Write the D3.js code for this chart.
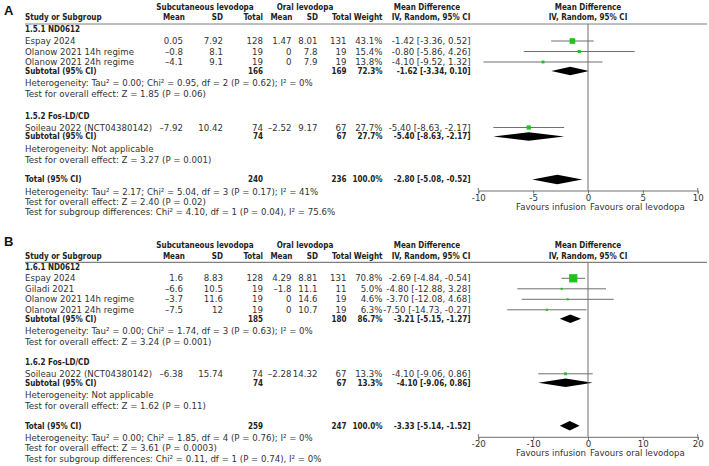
<!DOCTYPE html>
<html><head><meta charset="utf-8">
<script src="https://cdn.jsdelivr.net/npm/d3@7"></script>
<style>
body{margin:0;background:#fff}
svg text{font-family:"DejaVu Sans",sans-serif;fill:#333}
svg text.b{font-family:"DejaVu Sans Condensed","Liberation Sans",sans-serif;font-weight:bold;fill:#222}
</style></head><body><svg id="c" width="709" height="466"></svg>
<script>
// ---------- Panel A ----------
const groupsA = ["1.5.1 ND0612", "1.5.2 Fos-LD/CD"];
const studiesA = ["Espay 2024", "Olanow 2021 14h regime", "Olanow 2021 24h regime", "Soileau 2022 (NCT04380142)"];
const studyGroupA = [0, 0, 0, 1];
const expMeanA = ["0.05", "-0.8", "-4.1", "-7.92"];
const expSdA = ["7.92", "8.1", "9.1", "10.42"];
const expNA = [128, 19, 19, 74];
const ctlMeanA = ["1.47", "0", "0", "-2.52"];
const ctlSdA = ["8.01", "7.8", "7.9", "9.17"];
const ctlNA = [131, 19, 19, 67];
const weightA = [43.1, 15.4, 13.8, 27.7];
const mdA = [-1.42, -0.80, -4.10, -5.40];
const loA = [-3.36, -5.86, -9.52, -8.63];
const hiA = [0.52, 4.26, 1.32, -2.17];
const subExpNA = [166, 74];
const subCtlNA = [169, 67];
const subWeightA = [72.3, 27.7];
const subMdA = [-1.62, -5.40];
const subLoA = [-3.34, -8.63];
const subHiA = [0.10, -2.17];
const subHetA = ["Heterogeneity: Tau² = 0.00; Chi² = 0.95, df = 2 (P = 0.62); I² = 0%", "Heterogeneity: Not applicable"];
const subTestA = ["Test for overall effect: Z = 1.85 (P = 0.06)", "Test for overall effect: Z = 3.27 (P = 0.001)"];
const totalA = [240, 236, 100.0, -2.80, -5.08, -0.52];
const totalTextA = ["Heterogeneity: Tau² = 2.17; Chi² = 5.04, df = 3 (P = 0.17); I² = 41%",
  "Test for overall effect: Z = 2.40 (P = 0.02)",
  "Test for subgroup differences: Chi² = 4.10, df = 1 (P = 0.04), I² = 75.6%"];
const ticksA = [-10, -5, 0, 5, 10];

// ---------- Panel B ----------
const groupsB = ["1.6.1 ND0612", "1.6.2 Fos-LD/CD"];
const studiesB = ["Espay 2024", "Giladi 2021", "Olanow 2021 14h regime", "Olanow 2021 24h regime", "Soileau 2022 (NCT04380142)"];
const studyGroupB = [0, 0, 0, 0, 1];
const expMeanB = ["1.6", "-6.6", "-3.7", "-7.5", "-6.38"];
const expSdB = ["8.83", "10.5", "11.6", "12", "15.74"];
const expNB = [128, 19, 19, 19, 74];
const ctlMeanB = ["4.29", "-1.8", "0", "0", "-2.28"];
const ctlSdB = ["8.81", "11.1", "14.6", "10.7", "14.32"];
const ctlNB = [131, 11, 19, 19, 67];
const weightB = [70.8, 5.0, 4.6, 6.3, 13.3];
const mdB = [-2.69, -4.80, -3.70, -7.50, -4.10];
const loB = [-4.84, -12.88, -12.08, -14.73, -9.06];
const hiB = [-0.54, 3.28, 4.68, -0.27, 0.86];
const subExpNB = [185, 74];
const subCtlNB = [180, 67];
const subWeightB = [86.7, 13.3];
const subMdB = [-3.21, -4.10];
const subLoB = [-5.15, -9.06];
const subHiB = [-1.27, 0.86];
const subHetB = ["Heterogeneity: Tau² = 0.00; Chi² = 1.74, df = 3 (P = 0.63); I² = 0%", "Heterogeneity: Not applicable"];
const subTestB = ["Test for overall effect: Z = 3.24 (P = 0.001)", "Test for overall effect: Z = 1.62 (P = 0.11)"];
const totalB = [259, 247, 100.0, -3.33, -5.14, -1.52];
const totalTextB = ["Heterogeneity: Tau² = 0.00; Chi² = 1.85, df = 4 (P = 0.76); I² = 0%",
  "Test for overall effect: Z = 3.61 (P = 0.0003)",
  "Test for subgroup differences: Chi² = 0.11, df = 1 (P = 0.74), I² = 0%"];
const ticksB = [-20, -10, 0, 10, 20];

const svg = d3.select("#c");

// calibrate font sizes so that text widths match the reference
function fit(str, cls, target) {
  const t = svg.append("text").attr("class", cls).style("font-size", "10px").text(str);
  const w = t.node().getComputedTextLength();
  t.remove();
  return 10 * target / w;
}
const FS = fit(subTestA[0], null, 181);
const FSB = fit("Study or Subgroup", "b", 76.7);
d3.select("head").append("style").text(`svg text{font-size:${FS}px} svg text.b{font-size:${FSB}px}`);

const GREEN = "#1cc41c", LINE = "#6f6f6f", HLINE = "#808080";
const col = {name: 25, expMean: 183, expSd: 223, expN: 263, ctlMean: 291.5, ctlSd: 317.5, ctlN: 346.5, w: 382.5, ci: 470.5};
const tbl = s => s.replace("-", "\u2013");
const f2 = v => v.toFixed(2);
const ciText = (m, l, h) => `${f2(m)} [${f2(l)}, ${f2(h)}]`;
const wText = w => w.toFixed(1) + "%";
const sqScale = d3.scaleLinear().domain([0, 100]).range([1.6, 11]);

function txt(g, x, y, s, anchor, bold) {
  return g.append("text").attr("x", x).attr("y", y).attr("dy", "0.35em")
    .attr("text-anchor", anchor || "start").attr("class", bold ? "b" : null).text(s);
}

function drawPanel(p) {
  const g = svg.append("g");
  const x = d3.scaleLinear().domain([p.ticks[0], p.ticks[p.ticks.length - 1]]).range([478.3, 697.7]);
  g.append("text").attr("x", 4).attr("y", p.labelY).attr("dy", "0.35em")
    .style("font-family", "Liberation Sans, Arial, sans-serif").style("font-size", "13px")
    .style("font-weight", "bold").style("fill", "#111").text(p.label);
  const h1 = p.lineY - 17, h2 = p.lineY - 6.5;
  txt(g, 205, h1, "Subcutaneous levodopa", "middle", true);
  txt(g, 305, h1, "Oral levodopa", "middle", true);
  txt(g, 427, h1, "Mean Difference", "middle", true);
  txt(g, x(0), h1, "Mean Difference", "middle", true);
  txt(g, col.name, h2, "Study or Subgroup", "start", true);
  txt(g, 185, h2, "Mean", "end", true);
  txt(g, col.expSd, h2, "SD", "end", true);
  txt(g, col.expN, h2, "Total", "end", true);
  txt(g, 292.5, h2, "Mean", "end", true);
  txt(g, 318, h2, "SD", "end", true);
  txt(g, 351.5, h2, "Total", "end", true);
  txt(g, col.w, h2, "Weight", "end", true);
  txt(g, 431, h2, "IV, Random, 95% CI", "middle", true);
  txt(g, x(0), h2, "IV, Random, 95% CI", "middle", true);
  g.append("line").attr("x1", 25).attr("x2", 707).attr("y1", p.lineY).attr("y2", p.lineY)
    .attr("stroke", HLINE).attr("stroke-width", 1.2);

  let y = p.lineY + p.firstGap;
  const studyRows = [], subRows = [];
  p.groups.forEach((gname, gi) => {
    txt(g, col.name, y, gname, "start", true);
    y += 11.5;
    const idx = p.studyGroup.map((v, i) => v === gi ? i : -1).filter(i => i >= 0);
    idx.forEach((si, k) => {
      studyRows.push({si, y});
      if (k < idx.length - 1) y += 10.5;
    });
    y += 9; subRows.push({gi, y});
    y += 12; txt(g, col.name, y, p.subHet[gi]);
    y += 11; txt(g, col.name, y, p.subTest[gi]);
    y += gi < p.groups.length - 1 ? p.groupGap : 20;
  });
  const totalY = y;

  studyRows.forEach(({si, y}) => {
    txt(g, col.name, y, p.studies[si]);
    txt(g, col.expMean, y, tbl(p.expMean[si]), "end");
    txt(g, col.expSd, y, p.expSd[si], "end");
    txt(g, col.expN, y, p.expN[si], "end");
    txt(g, col.ctlMean, y, tbl(p.ctlMean[si]), "end");
    txt(g, col.ctlSd, y, p.ctlSd[si], "end");
    txt(g, col.ctlN, y, p.ctlN[si], "end");
    txt(g, col.w, y, wText(p.weight[si]), "end");
    txt(g, col.ci, y, ciText(p.md[si], p.lo[si], p.hi[si]), "end");
    g.append("line").attr("x1", x(p.lo[si])).attr("x2", x(p.hi[si])).attr("y1", y).attr("y2", y)
      .attr("stroke", LINE).attr("stroke-width", 1);
    const s = sqScale(p.weight[si]);
    g.append("rect").attr("x", x(p.md[si]) - s / 2).attr("y", y - s / 2).attr("width", s).attr("height", s)
      .attr("fill", GREEN);
  });
  const diamond = (m, l, h, y, ht) => g.append("path")
    .attr("d", `M${x(l)},${y}L${x(m)},${y - ht / 2}L${x(h)},${y}L${x(m)},${y + ht / 2}Z`).attr("fill", "#000");
  subRows.forEach(({gi, y}) => {
    txt(g, col.name, y, "Subtotal (95% CI)", "start", true);
    txt(g, col.expN, y, p.subExpN[gi], "end", true);
    txt(g, col.ctlN, y, p.subCtlN[gi], "end", true);
    txt(g, col.w, y, wText(p.subWeight[gi]), "end", true);
    txt(g, col.ci, y, ciText(p.subMd[gi], p.subLo[gi], p.subHi[gi]), "end", true);
    diamond(p.subMd[gi], p.subLo[gi], p.subHi[gi], y, 8.5);
  });
  const t = p.total;
  txt(g, col.name, totalY, "Total (95% CI)", "start", true);
  txt(g, col.expN, totalY, t[0], "end", true);
  txt(g, col.ctlN, totalY, t[1], "end", true);
  txt(g, col.w, totalY, wText(t[2]), "end", true);
  txt(g, col.ci, totalY, ciText(t[3], t[4], t[5]), "end", true);
  diamond(t[3], t[4], t[5], totalY, 9.5);
  p.totalText.forEach((s, i) => txt(g, col.name, totalY + 12 + i * 10.4, s));

  const axisY = totalY + 11;
  g.append("line").attr("x1", x(0)).attr("x2", x(0)).attr("y1", p.lineY).attr("y2", axisY)
    .attr("stroke", LINE).attr("stroke-width", 1);
  const ax = g.append("g").attr("transform", `translate(0,${axisY})`)
    .call(d3.axisBottom(x).tickValues(p.ticks).tickFormat(d => String(d)).tickSize(3).tickSizeOuter(3).tickPadding(1));
  ax.select(".domain").attr("stroke", LINE);
  ax.selectAll(".tick line").attr("stroke", LINE);
  ax.selectAll(".tick text").style("font-family", "DejaVu Sans, sans-serif").style("font-size", FS + "px").attr("fill", "#333");
  [p.ticks[0], p.ticks[p.ticks.length - 1]].forEach(v => ax.append("line")
    .attr("x1", x(v)).attr("x2", x(v)).attr("y1", -2.5).attr("y2", 0).attr("stroke", LINE));
  txt(g, x(0) - 2, axisY + 16.5, "Favours infusion", "end");
  txt(g, x(0) + 2, axisY + 16.5, "Favours oral levodopa", "start");
}

drawPanel({label: "A", labelY: 10, lineY: 24, firstGap: 5.5, groupGap: 22, groups: groupsA, studies: studiesA, studyGroup: studyGroupA,
  expMean: expMeanA, expSd: expSdA, expN: expNA, ctlMean: ctlMeanA, ctlSd: ctlSdA, ctlN: ctlNA,
  weight: weightA, md: mdA, lo: loA, hi: hiA, subExpN: subExpNA, subCtlN: subCtlNA, subWeight: subWeightA,
  subMd: subMdA, subLo: subLoA, subHi: subHiA, subHet: subHetA, subTest: subTestA,
  total: totalA, totalText: totalTextA, ticks: ticksA});
drawPanel({label: "B", labelY: 241, lineY: 262.3, firstGap: 4.5, groupGap: 20.5, groups: groupsB, studies: studiesB, studyGroup: studyGroupB,
  expMean: expMeanB, expSd: expSdB, expN: expNB, ctlMean: ctlMeanB, ctlSd: ctlSdB, ctlN: ctlNB,
  weight: weightB, md: mdB, lo: loB, hi: hiB, subExpN: subExpNB, subCtlN: subCtlNB, subWeight: subWeightB,
  subMd: subMdB, subLo: subLoB, subHi: subHiB, subHet: subHetB, subTest: subTestB,
  total: totalB, totalText: totalTextB, ticks: ticksB});
</script></body></html>
